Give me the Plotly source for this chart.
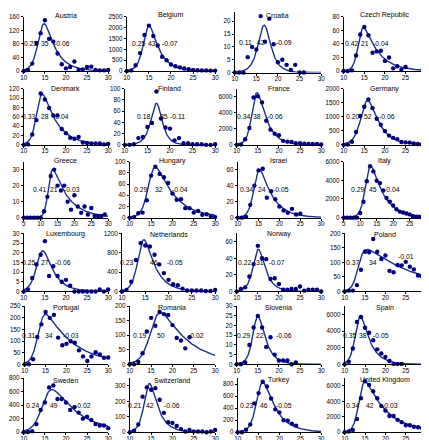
import numpy as np
import plotly.graph_objects as go

W, H = 429, 440

countries = ["Austria", "Belgium", "Croatia", "Czech Republic",
             "Denmark", "Finland", "France", "Germany",
             "Greece", "Hungary", "Israel", "Italy",
             "Luxembourg", "Netherlands", "Norway", "Poland",
             "Portugal", "Romania", "Slovenia", "Spain",
             "Sweden", "Switzerland", "Turkey", "United Kingdom"]

# observed values, one per year of age starting at first_age
austria = [0, 3, 22, 83, 112, 150, 95, 87, 52, 20, 8, 12, 28, 4, 5, 12, 13, 3, 2, 2, 3]
belgium = [0, 30, 270, 830, 1670, 2100, 1620, 1180, 660, 500, 300, 220, 170, 120, 80, 50, 40, 30, 30, 20, 20]
croatia = [0, 0, 0, 6, 10, 9, 22, 12, 21, 11, 4, 5, 3, 1, 3, 0, 0]
czech = [0, 0, 1, 23, 54, 65, 53, 27, 29, 30, 15, 20, 4, 7, 2, 6]
denmark = [0, 1, 22, 53, 110, 97, 79, 63, 63, 34, 25, 15, 13, 17, 5, 4, 3, 3, 3, 1, 2]
finland = [0, 0, 1, 12, 14, 32, 39, 95, 47, 31, 29, 8, 12, 3, 3, 1, 1, 1, 0, 0, 1]
france = [0, 50, 700, 2100, 5900, 6050, 5300, 3000, 1900, 1400, 1200, 500, 400, 350, 200, 200, 150, 100, 100, 100, 50]
germany = [0, 10, 110, 460, 1030, 1360, 1620, 1310, 930, 720, 490, 330, 250, 200, 100, 90, 80, 50, 30, 20, 10]
greece = [0, 0, 0, 0, 0, 0, 4, 13, 26, 30, 20, 17, 20, 10, 5, 14, 7, 3, 7, 2, 6, 1, 1, 1, 2]
hungary = [0, 1, 8, 9, 31, 75, 91, 78, 72, 62, 43, 32, 33, 17, 17, 9, 12, 5, 6, 2, 1]
israel = [0, 0, 1, 16, 40, 59, 61, 25, 33, 23, 14, 9, 6, 11, 4, 5]
italy = [0, 0, 0, 0, 0, 500, 1700, 3900, 5500, 4950, 3950, 3700, 2900, 2100, 1700, 1300, 900, 650, 550, 450, 350, 150, 100, 100, 80, 50]
luxembourg = [0, 1, 7, 14, 19, 26, 8, 13, 8, 5, 6, 3, 0, 0, 0, 0, 0, 0, 1, 0, 1]
netherlands = [0, 30, 200, 650, 1000, 950, 930, 760, 560, 380, 240, 150, 130, 60, 20, 20, 20, 20, 10, 10, 30]
norway = [0, 3, 5, 18, 33, 55, 40, 39, 15, 16, 9, 2, 2, 3, 3, 6, 1, 2, 2, 2, 0]
poland = [0, 3, 3, 22, 75, 137, 135, 181, 137, 112, 124, 71, 66, 91, 90, 102, 85, 76, 55, 52, 48]
portugal = [0, 0, 22, 118, 172, 225, 200, 213, 115, 82, 88, 99, 93, 60, 34, 14, 34, 52, 42, 28, 29]
romania = [0, 0, 8, 38, 113, 160, 133, 180, 173, 170, 135, 91, 82, 55, 93]
slovenia = [0, 0, 1, 10, 19, 25, 19, 9, 14, 5, 2, 2, 2, 0, 1]
spain = [0, 300, 1900, 5100, 5700, 4400, 3800, 2900, 1800, 1300, 900, 400, 50, 50, 50]
sweden = [0, 3, 15, 120, 330, 440, 660, 690, 490, 490, 440, 330, 370, 290, 200, 230, 180, 120, 100, 100, 60]
switzerland = [0, 10, 50, 230, 290, 275, 285, 210, 125, 65, 60, 40, 20, 5, 15, 5, 5, 5, 0, 5, 15]
turkey = [0, 0, 40, 130, 480, 650, 840, 760, 560, 380, 330, 200, 190, 140, 110]
united_kingdom = [0, 100, 300, 1700, 4400, 6600, 6100, 5300, 4400, 3400, 2800, 2100, 2100, 1600, 1300, 900, 900, 700, 650, 550, 450]

series = [austria, belgium, croatia, czech, denmark, finland, france, germany,
          greece, hungary, israel, italy, luxembourg, netherlands, norway, poland,
          portugal, romania, slovenia, spain, sweden, switzerland, turkey, united_kingdom]

first_age = [10, 10, 10, 10, 10, 10, 10, 10, 5, 10, 10, 5,
             10, 10, 10, 10, 10, 10, 10, 10, 10, 10, 10, 10]

# fitted curve parameters (peak height, age at peak, rise and decay rates)
peak_h = [140, 2100, 18.5, 64, 108, 74, 6500, 1580, 30, 90, 60, 5500,
          21, 1070, 51, 145, 215, 178, 25, 5800, 630, 315, 830, 6500]
peak_t = [14.8, 15.0, 16.8, 14.8, 14.4, 17.0, 14.8, 15.8, 13.6, 16.0, 15.2, 13.2,
          14.5, 14.7, 15.1, 15.5, 15.0, 17.2, 15.0, 13.8, 16.7, 14.6, 16.0, 15.0]
rise = [1.1, 1.2, 0.85, 1.5, 1.3, 0.9, 1.3, 0.9, 1.6, 1.1, 1.3, 1.1,
        1.0, 1.2, 1.1, 1.3, 1.2, 0.8, 1.2, 1.3, 0.8, 1.2, 1.1, 1.4]
decay = [0.38, 0.45, 0.7, 0.28, 0.3, 0.9, 0.45, 0.37, 0.22, 0.23, 0.33, 0.26,
         0.4, 0.42, 0.6, 0.075, 0.15, 0.15, 0.55, 0.42, 0.16, 0.5, 0.32, 0.19]

growth_lbl = ["0.23", "0.25", "0.11", "0.42", "0.33", "0.18", "0.34", "0.20",
              "0.41", "0.29", "0.34", "0.29", "0.25", "0.23", "0.22", "0.37",
              "0.31", "0.19", "0.29", "0.35", "0.24", "0.21", "0.23", "0.34"]
peak_lbl = ["35", "43", "42", "21", "28", "35", "38", "52", "21", "32", "24", "45",
            "27", "46", "31", "34", "34", "50", "22", "38", "49", "42", "46", "42"]
decline_lbl = ["-0.06", "-0.07", "-0.09", "-0.04", "-0.04", "-0.11", "-0.06", "-0.06",
               "-0.03", "-0.04", "-0.05", "-0.04", "-0.06", "-0.05", "-0.07", "-0.01",
               "-0.03", "-0.02", "-0.06", "-0.05", "-0.02", "-0.06", "-0.05", "-0.03"]

y_max = [160, 2500, 23.6, 80, 120, 100, 7000, 2000, 35, 100, 70, 6000,
         30, 1200, 70, 200, 250, 200, 30, 7000, 800, 350, 900, 7000]
y_step = [40, 500, 5, 20, 20, 20, 2000, 500, 10, 20, 20, 2000,
          5, 400, 20, 50, 50, 50, 5, 2000, 200, 100, 200, 2000]

# layout (pixels)
left_px = [12, 117, 227, 338, 12, 115, 229, 338, 12, 120, 230, 338,
           12, 112, 229, 339, 13, 120, 229, 339, 12, 120, 230, 339]
right_px = [98, 207, 315, 422]
rows_px = [(5, 60), (78, 135), (152, 209), (225, 284), (299, 358), (372, 427)]
title_px = [3.5, 78, 151, 226, 300.5, 374]
lbl_x = [(0.075, 0.25, 0.455), (0.13, 0.28, 0.49), (0.13, 0.30, 0.57), (0.09, 0.26, 0.45),
         (0.055, 0.25, 0.44), (0.21, 0.43, 0.58), (0.085, 0.24, 0.45), (0.105, 0.30, 0.53),
         (0.19, 0.36, 0.57), (0.13, 0.34, 0.59), (0.10, 0.29, 0.52), (0.17, 0.36, 0.58),
         (0.06, 0.25, 0.46), (0.05, 0.34, 0.57), (0.09, 0.28, 0.48), (0.10, 0.35, 0.75),
         (0.05, 0.29, 0.56), (0.11, 0.37, 0.78), (0.08, 0.27, 0.56), (0.06, 0.22, 0.45),
         (0.10, 0.36, 0.70), (0.06, 0.24, 0.50), (0.10, 0.31, 0.55), (0.10, 0.31, 0.56)]
lbl_y = [0.5] * 24
lbl_y3 = [0.5] * 24
lbl_y3[15] = 0.6

FONT = "Liberation Sans, Arial, sans-serif"
MARK = "#000080"
LINE = "#1b2f8f"

fig = go.Figure()
annotations = []
layout_axes = {}

for i, name in enumerate(countries):
    r, c = divmod(i, 4)
    top, bot = rows_px[r]
    if name == "Croatia":
        top, bot = 0, 61.5
    x0 = left_px[i] / W
    x1 = right_px[c] / W
    y0 = 1 - bot / H
    y1 = 1 - top / H
    ax = "" if i == 0 else str(i + 1)
    ages = list(range(first_age[i], first_age[i] + len(series[i])))
    t = np.linspace(first_age[i], 30, 300)
    d = t - peak_t[i]
    a, b = rise[i], decay[i]
    curve = peak_h[i] * (a + b) / (b * np.exp(-a * d) + a * np.exp(b * d))
    fig.add_trace(go.Scatter(x=t, y=curve, mode="lines", xaxis="x" + ax, yaxis="y" + ax,
                             line=dict(color=LINE, width=1.4), hoverinfo="skip",
                             showlegend=False))
    fig.add_trace(go.Scatter(x=ages, y=series[i], mode="markers", xaxis="x" + ax, yaxis="y" + ax,
                             marker=dict(color=MARK, size=4.4), cliponaxis=False,
                             showlegend=False))
    common = dict(showline=True, linecolor="black", linewidth=1, showgrid=False, zeroline=False,
                  ticks="outside", ticklen=2, tickwidth=1, tickcolor="black",
                  tickfont=dict(family=FONT, size=6.3, color="black"), fixedrange=True)
    layout_axes["xaxis" + ax] = dict(domain=[x0, x1], anchor="y" + ax, ticklabelstandoff=-2,
                                     range=[first_age[i], 30], dtick=5, tick0=0, **common)
    layout_axes["yaxis" + ax] = dict(domain=[y0, y1], anchor="x" + ax,
                                     range=[0, y_max[i]], dtick=y_step[i], tick0=0,
                                     tickformat="d", **common)
    annotations.append(dict(text=name, x=(x0 + x1) / 2, y=1 - title_px[r] / H,
                            xref="paper", yref="paper", showarrow=False, xanchor="center",
                            yanchor="middle", font=dict(family=FONT, size=7, color="black")))
    for k, txt in enumerate([growth_lbl[i], peak_lbl[i], decline_lbl[i]]):
        yy = lbl_y3[i] if k == 2 else lbl_y[i]
        annotations.append(dict(text=txt, x=lbl_x[i][k], y=yy,
                                xref="x" + ax + " domain", yref="y" + ax + " domain",
                                showarrow=False, xanchor="center", yanchor="middle",
                                font=dict(family=FONT, size=6.8, color="black")))

fig.update_layout(width=W, height=H, margin=dict(l=0, r=0, t=0, b=0),
                  paper_bgcolor="white", plot_bgcolor="white",
                  annotations=annotations, showlegend=False, **layout_axes)

fig.write_html("out.html")
